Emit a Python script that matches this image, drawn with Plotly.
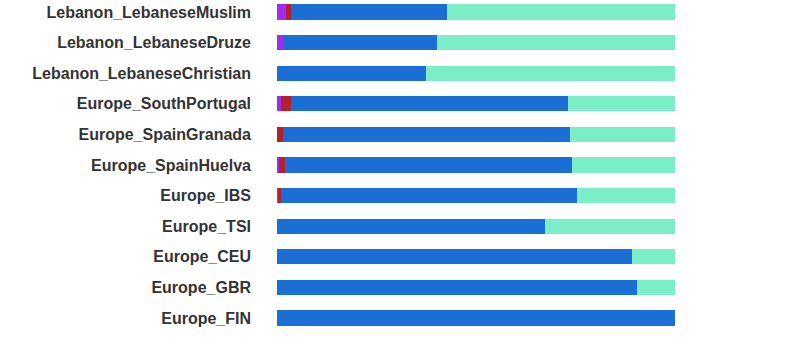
import plotly.graph_objects as go

categories = ["Lebanon_LebaneseMuslim", "Lebanon_LebaneseDruze", "Lebanon_LebaneseChristian",
              "Europe_SouthPortugal", "Europe_SpainGranada", "Europe_SpainHuelva",
              "Europe_IBS", "Europe_TSI", "Europe_CEU", "Europe_GBR", "Europe_FIN"]
purple_vals = [0.022, 0.014, 0.0, 0.009, 0.0, 0.004, 0.004, 0.0, 0.0, 0.0, 0.0]
red_vals    = [0.013, 0.0, 0.0, 0.027, 0.015, 0.017, 0.005, 0.0, 0.0, 0.0, 0.0]
blue_vals   = [0.392, 0.389, 0.374, 0.696, 0.721, 0.719, 0.746, 0.673, 0.892, 0.904, 1.0]
green_vals  = [round(1 - p - r - b, 3) for p, r, b in zip(purple_vals, red_vals, blue_vals)]

series = [("Purple", purple_vals, "#a32bf0"),
          ("Red", red_vals, "#b3202e"),
          ("Blue", blue_vals, "#1b6fd4"),
          ("Green", green_vals, "#7ceec7")]

fig = go.Figure()
for name, vals, col in series:
    fig.add_trace(go.Bar(y=categories, x=vals, name=name, orientation="h",
                         marker=dict(color=col, line=dict(width=0)), width=0.5))

fig.update_layout(
    barmode="stack", showlegend=False,
    width=785, height=364,
    margin=dict(l=277, r=110, t=0, b=31),
    plot_bgcolor="white", paper_bgcolor="white",
    font=dict(family="Liberation Sans, Arial", size=16, color="#333333"),
)
fig.update_xaxes(range=[0, 1], visible=False)
fig.update_yaxes(type="category", categoryarray=categories, range=[10.49, -0.392],
                 showgrid=False, zeroline=False, showline=False, ticks="",
                 ticklabelstandoff=25, automargin=False,
                 tickfont=dict(family="Liberation Sans, Arial", size=16, color="#333333", weight="bold"))

fig.write_html("out.html", config={"displayModeBar": False},
               post_script="document.body.style.margin='0';")
